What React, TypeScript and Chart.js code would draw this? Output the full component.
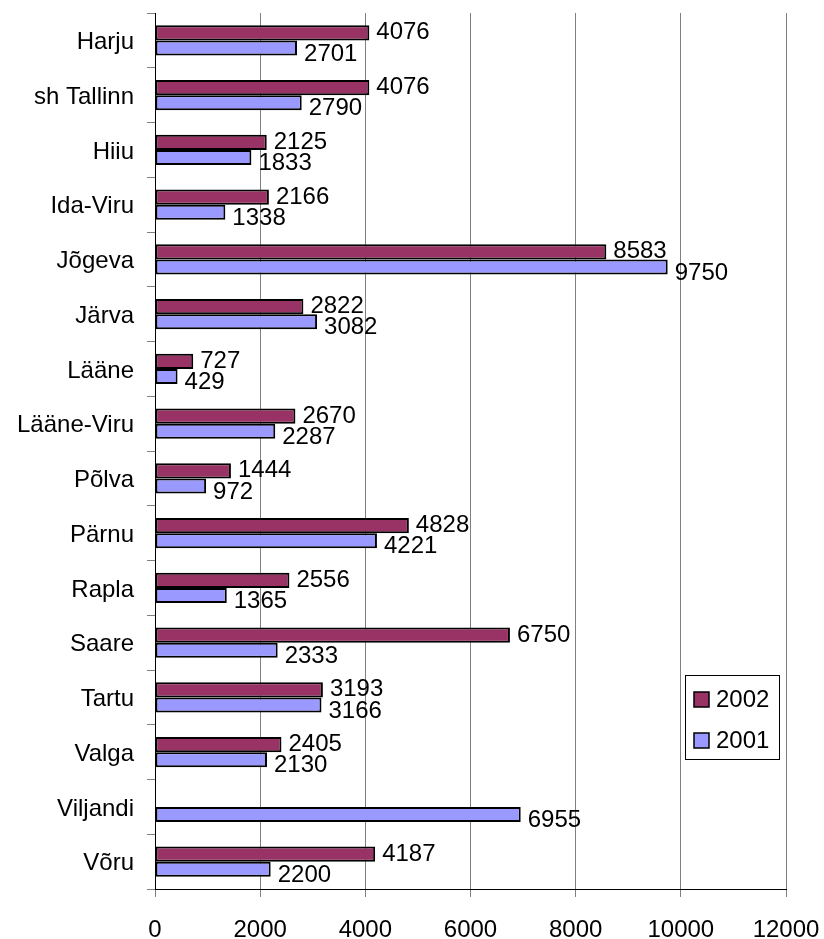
import React, { useEffect, useRef } from "react";
import { Chart, registerables } from "chart.js";

Chart.register(...registerables);

const categories = [
  "Harju", "sh Tallinn", "Hiiu", "Ida-Viru", "Jõgeva", "Järva", "Lääne", "Lääne-Viru",
  "Põlva", "Pärnu", "Rapla", "Saare", "Tartu", "Valga", "Viljandi", "Võru",
];
const values2002: (number | null)[] = [
  4076, 4076, 2125, 2166, 8583, 2822, 727, 2670, 1444, 4828, 2556, 6750, 3193, 2405, null, 4187,
];
const values2001: number[] = [
  2701, 2790, 1833, 1338, 9750, 3082, 429, 2287, 972, 4221, 1365, 2333, 3166, 2130, 6955, 2200,
];
const seriesNames = ["2002", "2001"];
const seriesColors = ["#993366", "#9999FF"];
const xMin = 0;
const xMax = 12000;
const xStep = 2000;

const FONT = "Liberation Sans, Arial, sans-serif";

const labelPlugin = {
  id: "valueLabels",
  afterDatasetsDraw(chart: any) {
    const ctx = chart.ctx;
    ctx.save();
    ctx.font = `24px ${FONT}`;
    ctx.fillStyle = "#000";
    ctx.textAlign = "left";
    ctx.textBaseline = "middle";
    chart.data.datasets.forEach((ds: any, di: number) => {
      const meta = chart.getDatasetMeta(di);
      meta.data.forEach((el: any, i: number) => {
        const v = ds.data[i];
        if (v === null || v === undefined) return;
        const dy = di === 0 ? 0 : 6;
        ctx.fillText(String(v), el.x + 7, el.y + dy);
      });
    });
    ctx.restore();
  },
};

const legendPlugin = {
  id: "boxLegend",
  afterDraw(chart: any) {
    const ctx = chart.ctx;
    ctx.save();
    const bx = 685, by = 675, bw = 94, bh = 84;
    ctx.fillStyle = "#fff";
    ctx.fillRect(bx, by, bw, bh);
    ctx.strokeStyle = "#000";
    ctx.lineWidth = 1;
    ctx.strokeRect(bx + 0.5, by + 0.5, bw, bh);
    const rows = [699, 740];
    seriesNames.forEach((name, i) => {
      const cy = rows[i];
      ctx.fillStyle = seriesColors[i];
      ctx.fillRect(694, cy - 7, 15, 15);
      ctx.strokeStyle = "#000";
      ctx.lineWidth = 1.5;
      ctx.strokeRect(694, cy - 7, 15, 15);
      ctx.fillStyle = "#000";
      ctx.font = `24px ${FONT}`;
      ctx.textAlign = "left";
      ctx.textBaseline = "middle";
      ctx.fillText(name, 716, cy + 1);
    });
    ctx.restore();
  },
};

export default function App() {
  const ref = useRef<HTMLCanvasElement | null>(null);
  useEffect(() => {
    if (!ref.current) return;
    const common = {
      borderColor: "#000",
      borderWidth: 2,
      borderSkipped: false,
      categoryPercentage: 0.55,
      barPercentage: 1,
    };
    const chart = new Chart(ref.current, {
      type: "bar",
      data: {
        labels: categories,
        datasets: [
          { label: seriesNames[0], data: values2002, backgroundColor: seriesColors[0], ...common },
          { label: seriesNames[1], data: values2001, backgroundColor: seriesColors[1], ...common },
        ],
      },
      options: {
        indexAxis: "y",
        animation: false,
        responsive: false,
        maintainAspectRatio: false,
        layout: { padding: { top: 13, right: 38, left: 0, bottom: 0 } },
        plugins: {
          legend: { display: false },
          tooltip: { enabled: false },
        },
        scales: {
          x: {
            min: xMin,
            max: xMax,
            ticks: {
              stepSize: xStep,
              color: "#000",
              font: { family: FONT, size: 24 },
              padding: 19,
              callback: (v: any) => String(v),
            },
            grid: {
              color: "#808080",
              lineWidth: 1,
              drawOnChartArea: true,
              drawTicks: true,
              tickLength: 8,
              tickColor: "#808080",
            },
            border: { display: true, color: "#000", width: 1 },
            afterFit: (scale: any) => {
              scale.height = 50;
              scale.paddingLeft = 0;
              scale.paddingRight = 0;
            },
          },
          y: {
            offset: true,
            ticks: {
              color: "#000",
              font: { family: FONT, size: 24 },
              padding: 13,
              labelOffset: 2,
            },
            grid: {
              offset: true,
              drawOnChartArea: false,
              drawTicks: true,
              tickLength: 8,
              color: "#808080",
            },
            border: { display: true, color: "#000", width: 1 },
            afterFit: (scale: any) => {
              scale.width = 155;
              scale.paddingTop = 0;
              scale.paddingBottom = 0;
            },
          },
        },
      },
      plugins: [labelPlugin, legendPlugin],
    });
    return () => chart.destroy();
  }, []);
  return (
    <div style={{ position: "fixed", left: 0, top: 0, width: 824, height: 939, background: "#fff" }}>
      <canvas ref={ref} width={824} height={939} style={{ width: 824, height: 939, display: "block" }} />
    </div>
  );
}
